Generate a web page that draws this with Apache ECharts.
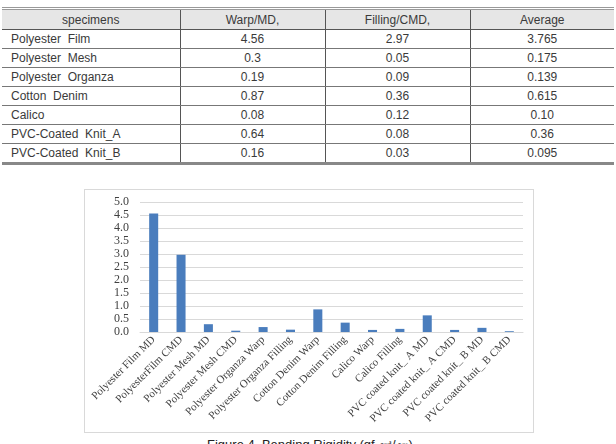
<!DOCTYPE html>
<html>
<head>
<meta charset="utf-8">
<script src="https://cdn.jsdelivr.net/npm/echarts@6/dist/echarts.min.js"></script>
<style>
  html, body { margin: 0; padding: 0; background: #fff; }
  body { width: 616px; height: 444px; position: relative; overflow: hidden; }
  #tbl {
    position: absolute; left: 2px; top: 7px; width: 612px;
    border-collapse: collapse; table-layout: fixed;
    font-family: "Liberation Sans", Arial, sans-serif; font-size: 12px; color: #3a3a3a;
    border-top: 3px double #999; border-bottom: 3px solid #888;
  }
  #tbl th, #tbl td {
    height: 18px; padding: 0; border-bottom: 1px solid #777;
    border-left: 1px solid #555; white-space: pre; text-align: center; font-weight: normal;
  }
  #tbl th { background: #e6e6e6; height: 19px; border-bottom: 1px solid #555; }
  #tbl th:first-child, #tbl td:first-child { border-left: none; }
  #tbl td:first-child { text-align: left; padding-left: 9px; }
  #chart {
    position: absolute; left: 84px; top: 189px; width: 448px; height: 242px;
    border: 1px solid #d9d9d9;
  }
  #caption {
    position: absolute; left: 0; width: 616px; top: 436px; text-align: center;
    font-family: "Liberation Sans", Arial, sans-serif; font-size: 13px; color: #222;
    margin-left: 2px;
  }
</style>
</head>
<body>
<table id="tbl">
  <colgroup><col style="width:178px"><col style="width:145px"><col style="width:145px"><col></colgroup>
  <thead><tr id="head"></tr></thead>
  <tbody id="body"></tbody>
</table>
<div id="chart"></div>
<div id="caption">Figure 4. Bending Rigidity (gf·㎠/㎝)</div>
<script>
  // table data
  const tableHeader = ['specimens', 'Warp/MD,', 'Filling/CMD,', 'Average']
  const specimens = ['Polyester  Film', 'Polyester  Mesh', 'Polyester  Organza', 'Cotton  Denim', 'Calico', 'PVC-Coated  Knit_A', 'PVC-Coated  Knit_B']
  const warpMD = ['4.56', '0.3', '0.19', '0.87', '0.08', '0.64', '0.16']
  const fillingCMD = ['2.97', '0.05', '0.09', '0.36', '0.12', '0.08', '0.03']
  const average = ['3.765', '0.175', '0.139', '0.615', '0.10', '0.36', '0.095']

  // chart data
  const categories = [
    'Polyester Film MD', 'PolyesterFilm CMD', 'Polyester Mesh MD', 'Polyester Mesh CMD',
    'Polyester Organza Warp', 'Polyester Organza Filling', 'Cotton Denim Warp', 'Cotton Denim Filling',
    'Calico Warp', 'Calico Filling', 'PVC coated knit_ A MD', 'PVC coated knit_ A CMD',
    'PVC coated knit_ B MD', 'PVC coated knit_ B CMD'
  ]
  const rigidity = [4.56, 2.97, 0.3, 0.05, 0.19, 0.09, 0.87, 0.36, 0.08, 0.12, 0.64, 0.08, 0.16, 0.03]

  const head = document.getElementById('head')
  tableHeader.forEach(h => {
    const th = document.createElement('th')
    th.textContent = h
    head.appendChild(th)
  })
  const body = document.getElementById('body')
  specimens.forEach((s, i) => {
    const tr = document.createElement('tr')
    ;[s, warpMD[i], fillingCMD[i], average[i]].forEach(v => {
      const td = document.createElement('td')
      td.textContent = v
      tr.appendChild(td)
    })
    body.appendChild(tr)
  })

  const chart = echarts.init(document.getElementById('chart'), null, {renderer: 'canvas'})
  chart.setOption({
    animation: false,
    grid: {left: 55, right: 10, top: 12, bottom: 100, containLabel: false, outerBoundsMode: 'none'},
    xAxis: {
      type: 'category',
      data: categories,
      axisTick: {show: false},
      axisLine: {lineStyle: {color: '#d9d9d9'}},
      axisLabel: {
        interval: 0,
        rotate: 45,
        margin: 6,
        color: '#404040',
        fontFamily: 'Liberation Serif',
        fontSize: 11
      }
    },
    yAxis: {
      type: 'value',
      min: 0,
      max: 5,
      interval: 0.5,
      axisLine: {show: false},
      axisTick: {show: false},
      splitLine: {lineStyle: {color: '#d9d9d9'}},
      axisLabel: {
        margin: 11,
        color: '#404040',
        fontFamily: 'Liberation Serif',
        fontSize: 12,
        formatter: v => v.toFixed(1)
      }
    },
    series: [{
      type: 'bar',
      data: rigidity,
      barWidth: '33%',
      itemStyle: {color: '#4a7dbd'}
    }]
  })
</script>
</body>
</html>
